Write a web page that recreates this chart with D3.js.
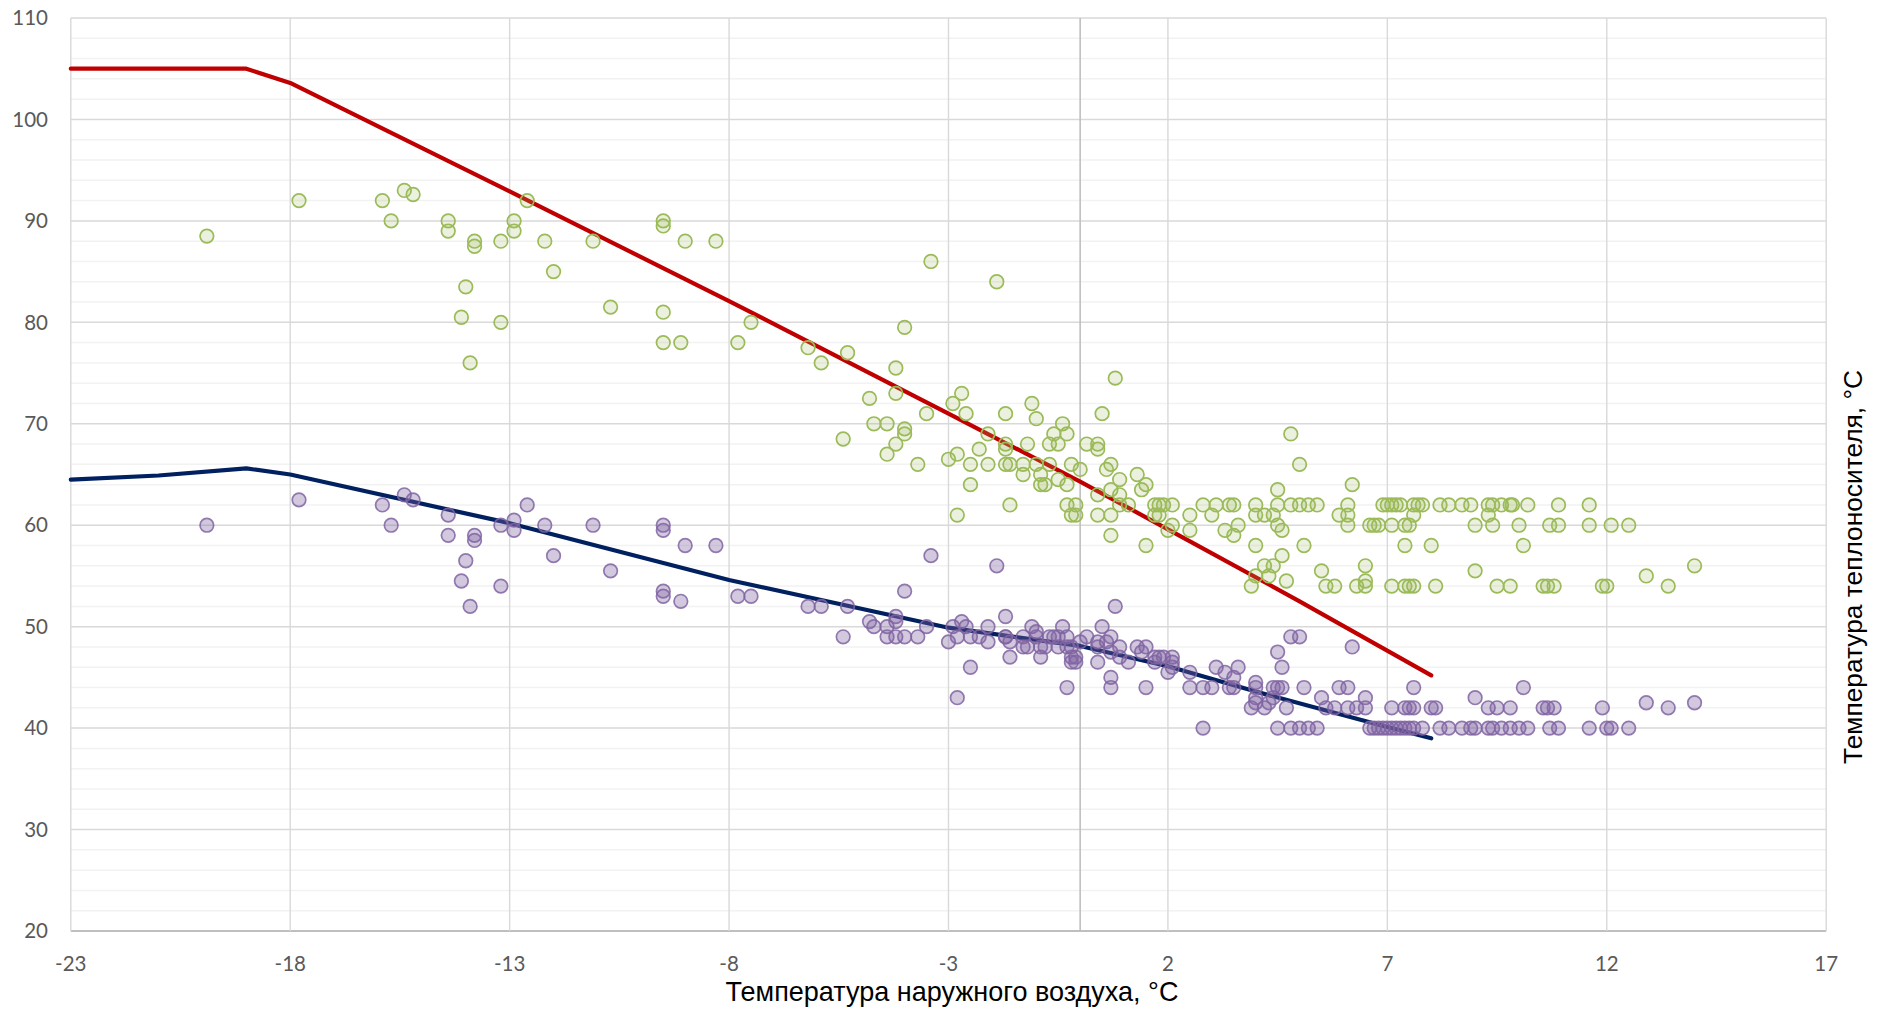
<!DOCTYPE html>
<html>
<head>
<meta charset="utf-8">
<script src="https://cdn.jsdelivr.net/npm/d3@7"></script>
<style>
  html, body { margin: 0; padding: 0; background: #fff; }
  svg { display: block; }
</style>
</head>
<body>
<svg id="chart" width="1881" height="1010"></svg>
<script>
// ---------------- DATA ----------------
const xTicks = [-23, -18, -13, -8, -3, 2, 7, 12, 17];
const yTicks = [20, 30, 40, 50, 60, 70, 80, 90, 100, 110];
const yMinorTicks = d3.range(20, 111, 2);

const xTitle = "Температура наружного воздуха, °С";
const yTitle = "Температура теплоносителя, °С";

// heating schedule (lines)
const scheduleX      = [-23, -19, -18, -13, -8, -3, 0, 2, 5, 8];
const scheduleSupply = [105, 105, 103.6, 92.9, 82.1, 71.0, 64.3, 59.6, 52.5, 45.2];
const scheduleReturnX = [-23, -21, -19, -18, -13, -8, -3, 0, 2, 4, 7, 8];
const scheduleReturn  = [64.5, 64.9, 65.6, 65.0, 60.2, 54.6, 49.9, 48.1, 46.1, 43.6, 40.1, 39.0];

// measured supply temperatures [outdoor, supply]
const supplyObs = [
  [-19.9,88.5],[-17.8,92],[-15.9,92],[-15.7,90],[-15.4,93],[-15.2,92.6],[-14.4,90],[-14.4,89],[-14.0,83.5],[-14.1,80.5],
  [-13.9,76],[-13.8,88],[-13.8,87.5],[-13.2,88],[-13.2,80],[-12.9,90],[-12.9,89],[-12.6,92],[-12.2,88],[-12.0,85],
  [-11.1,88],[-10.7,81.5],[-9.5,90],[-9.5,89.5],[-9.5,81],[-9.5,78],[-9.1,78],[-9.0,88],[-8.3,88],[-7.8,78],[-7.5,80],
  [-6.2,77.5],[-5.9,76],[-5.3,77],[-5.4,68.5],[-4.8,72.5],[-4.7,70],[-4.4,70],[-4.4,67],[-4.2,75.5],[-4.2,73],[-4.2,68],
  [-4.0,79.5],[-4.0,69.5],[-4.0,69],[-3.7,66],[-3.5,71],[-3.4,86],[-3.0,66.5],[-2.9,72],[-2.8,67],[-2.8,61],[-2.7,73],
  [-2.6,71],[-2.5,66],[-2.5,64],[-2.3,67.5],[-2.1,69],[-2.1,66],[-1.9,84],[-1.7,71],[-1.7,68],[-1.7,67.5],[-1.7,66],
  [-1.6,66],[-1.6,62],[-1.3,66],[-1.3,65],[-1.2,68],[-1.1,72],[-1.0,70.5],[-1.0,66],[-0.9,65],[-0.9,64],[-0.8,64],
  [-0.7,66],[-0.7,68],[-0.6,69],[-0.5,68],[-0.4,70],[-0.3,69],[-0.5,64.5],[-0.3,64],[-0.2,66],[0.0,65.5],[-0.3,62],
  [-0.1,62],[-0.2,61],[-0.1,61],[0.15,68],
  [0.8,74.5],[0.5,71],[0.4,68],[0.4,67.5],[0.6,65.5],[0.7,66],[0.9,64.5],[0.7,63.5],[0.4,63],[0.9,63],[1.3,65],[1.5,64],
  [1.4,63.5],[0.9,62],[1.1,62],[0.4,61],[0.7,61],[0.7,59],[1.5,58],[1.7,62],[1.8,62],[1.9,62],[2.1,62],[1.7,61],[1.8,61],
  [2.1,60],[2.0,59.5],[2.5,61],[2.5,59.5],[2.8,62],[3.1,62],[3.0,61],[3.4,62],[3.5,62],[3.3,59.5],[3.6,60],[3.5,59],
  [4.0,62],[4.0,61],[4.2,61],[4.4,61],[4.5,62],[4.5,63.5],[4.5,60],[4.6,59.5],[4.0,58],[4.6,57],[4.2,56],[4.4,56],
  [4.0,55],[4.3,55],[3.9,54],[4.7,54.5],[4.8,69],[5.0,66],[4.8,62],[5.0,62],[5.2,62],[5.4,62],[5.1,58],[5.5,55.5],
  [5.6,54],[5.8,54],[5.9,61],[6.1,62],[6.1,61],[6.1,60],[6.2,64],[6.5,56],[6.5,54.5],[6.3,54],[6.5,54],[6.6,60],
  [6.7,60],[6.8,60],[7.1,60],[6.9,62],[7.0,62],[7.1,62],[7.2,62],[7.3,62],[7.1,54],[7.4,60],[7.5,60],[7.4,58],
  [7.4,54],[7.5,54],[7.6,54],[7.6,62],[7.7,62],[7.6,61],
  [7.8,62],[8.2,62],[8.4,62],[8.7,62],[8.9,62],[9.3,62],[9.4,62],[9.6,62],[9.8,62],[9.85,62],[10.2,62],[10.9,62],
  [11.6,62],[9.3,61],[9.0,60],[9.4,60],[10.0,60],[10.7,60],[10.9,60],[11.6,60],[12.1,60],[12.5,60],[8.0,58],[10.1,58],
  [9.0,55.5],[12.9,55],[14.0,56],[13.4,54],[8.1,54],[9.5,54],[9.8,54],[10.55,54],[10.65,54],[10.8,54],[11.9,54],[12.0,54]
];

// measured return temperatures [outdoor, return]
const returnObs = [
  [-19.9,60],[-17.8,62.5],[-15.9,62],[-15.7,60],[-15.4,63],[-15.2,62.5],[-14.4,61],[-14.4,59],[-14.0,56.5],[-14.1,54.5],
  [-13.9,52],[-13.8,59],[-13.8,58.5],[-13.2,60],[-13.2,54],[-12.9,60.5],[-12.9,59.5],[-12.6,62],[-12.2,60],[-12.0,57],
  [-11.1,60],[-10.7,55.5],[-9.5,60],[-9.5,59.5],[-9.5,53.5],[-9.5,53],[-9.1,52.5],[-9.0,58],[-8.3,58],[-7.8,53],[-7.5,53],
  [-6.2,52],[-5.9,52],[-5.3,52],[-5.4,49],[-4.8,50.5],[-4.7,50],[-4.4,50],[-4.2,51],[-4.2,50.5],[-4.4,49],[-4.2,49],
  [-4.0,49],[-4.0,53.5],[-3.7,49],[-3.5,50],[-3.4,57],[-3.0,48.5],[-2.9,50],[-2.7,50.5],[-2.6,50],[-2.8,49],[-2.5,49],
  [-2.5,46],[-2.8,43],[-2.3,49],[-2.1,50],[-2.1,48.5],[-1.9,56],[-1.7,51],[-1.7,49],[-1.7,49],[-1.6,48.5],[-1.6,47],
  [-1.3,49],[-1.3,48],[-1.2,48],[-1.1,50],[-1.0,49.5],[-1.0,49],[-0.9,47],[-0.9,48],[-0.8,48],[-0.7,49],[-0.6,49],
  [-0.5,49],[-0.5,48],[-0.4,50],[-0.3,49],[-0.3,48],[-0.2,48],[-0.2,47],[-0.1,47],[-0.2,46.5],[-0.1,46.5],[-0.3,44],
  [0.0,48.5],[0.15,49],
  [0.4,48.5],[0.4,48],[0.4,46.5],[0.5,50],[0.6,48.5],[0.7,49],[0.7,47.5],[0.8,52],[0.7,45],[0.7,44],[0.9,48],[0.9,47],
  [1.1,46.5],[1.3,48],[1.4,47.5],[1.5,48],[1.5,44],[1.7,47],[1.7,46.5],[1.8,47],[1.9,47],[2.1,47],[2.1,46.5],[2.0,45.5],
  [2.1,46],[2.5,45.5],[2.5,44],[2.8,40],[2.8,44],[3.0,44],[3.1,46],[3.3,45.5],[3.5,45],[3.6,46],[3.4,44],[3.5,44],
  [4.0,44.5],[4.0,44],[4.0,43],[3.9,42],[4.0,42.5],[4.2,42],[4.3,42.5],[4.4,43],[4.4,44],[4.5,44],[4.6,44],[4.5,47.5],
  [4.6,46],[4.7,42],[4.5,40],[4.8,40],[5.0,40],[5.2,40],[5.4,40],[4.8,49],[5.0,49],[5.1,44],[5.5,43],[5.6,42],[5.8,42],
  [5.9,44],[6.1,44],[6.1,42],[6.2,48],[6.3,42],[6.5,43],[6.5,42],[6.6,40],[6.7,40],[6.8,40],[6.9,40],[7.0,40],[7.1,40],
  [7.2,40],[7.3,40],[7.4,40],[7.5,40],[7.6,40],[7.1,42],[7.4,42],[7.5,42],[7.6,42],[7.6,44],
  [7.8,40],[8.0,42],[8.1,42],[8.2,40],[8.4,40],[8.7,40],[8.9,40],[9.0,40],[9.0,43],[9.3,42],[9.5,42],[9.8,42],[10.1,44],
  [9.3,40],[9.4,40],[9.6,40],[9.8,40],[10.0,40],[10.2,40],[10.55,42],[10.65,42],[10.8,42],[10.7,40],[10.9,40],[11.6,40],
  [11.9,42],[12.0,40],[12.1,40],[12.5,40],[12.9,42.5],[13.4,42],[14.0,42.5]
];

// ---------------- CHART ----------------
const svg = d3.select("#chart");
const plot = { left: 70.8, right: 1826.2, top: 18, bottom: 931 };

const x = d3.scaleLinear().domain([-23, 17]).range([plot.left, plot.right]);
const y = d3.scaleLinear().domain([20, 110]).range([plot.bottom, plot.top]);

const grid = svg.append("g");
grid.selectAll("line.minor").data(yMinorTicks.filter(v => v % 10 !== 0)).join("line")
  .attr("x1", plot.left).attr("x2", plot.right)
  .attr("y1", d => y(d)).attr("y2", d => y(d))
  .attr("stroke", "#F2F2F2").attr("stroke-width", 1.5);
grid.selectAll("line.major").data(yTicks).join("line")
  .attr("x1", plot.left).attr("x2", plot.right)
  .attr("y1", d => y(d)).attr("y2", d => y(d))
  .attr("stroke", d => d === 20 ? "#BFBFBF" : "#D9D9D9")
  .attr("stroke-width", d => d === 20 ? 2.2 : 1.5);
grid.selectAll("line.vert").data(xTicks).join("line")
  .attr("x1", d => x(d)).attr("x2", d => x(d))
  .attr("y1", plot.top).attr("y2", plot.bottom)
  .attr("stroke", "#D9D9D9").attr("stroke-width", 1.4);
grid.append("line")
  .attr("x1", x(0)).attr("x2", x(0))
  .attr("y1", plot.top).attr("y2", plot.bottom)
  .attr("stroke", "#BFBFBF").attr("stroke-width", 1.6);

const tickFont = "Lato, 'Open Sans', sans-serif";
svg.append("g").selectAll("text").data(yTicks).join("text")
  .attr("x", 48).attr("y", d => y(d)).attr("dy", "0.35em")
  .attr("text-anchor", "end")
  .attr("font-family", tickFont).attr("font-size", 20.5).attr("fill", "#595959")
  .text(d => d);
svg.append("g").selectAll("text").data(xTicks).join("text")
  .attr("x", d => x(d)).attr("y", 971)
  .attr("text-anchor", "middle")
  .attr("font-family", tickFont).attr("font-size", 20.5).attr("fill", "#595959")
  .text(d => d);

const lineGen = d3.line().x(d => x(d[0])).y(d => y(d[1]));
svg.append("path")
  .datum(scheduleX.map((v, i) => [v, scheduleSupply[i]]))
  .attr("d", lineGen)
  .attr("fill", "none").attr("stroke", "#C00000").attr("stroke-width", 4.2)
  .attr("stroke-linejoin", "round").attr("stroke-linecap", "round");
svg.append("path")
  .datum(scheduleReturnX.map((v, i) => [v, scheduleReturn[i]]))
  .attr("d", lineGen)
  .attr("fill", "none").attr("stroke", "#002060").attr("stroke-width", 4.2)
  .attr("stroke-linejoin", "round").attr("stroke-linecap", "round");

svg.append("g").selectAll("circle").data(supplyObs).join("circle")
  .attr("cx", d => x(d[0])).attr("cy", d => y(d[1])).attr("r", 6.8)
  .attr("fill", "rgba(155,187,89,0.2)")
  .attr("stroke", "#9BBB59").attr("stroke-width", 1.7);
svg.append("g").selectAll("circle").data(returnObs).join("circle")
  .attr("cx", d => x(d[0])).attr("cy", d => y(d[1])).attr("r", 6.8)
  .attr("fill", "rgba(128,100,162,0.35)")
  .attr("stroke", "rgba(128,100,162,0.85)").attr("stroke-width", 1.7);

const titleFont = "'Liberation Sans', Arial, sans-serif";
const xt = svg.append("text")
  .attr("x", 952).attr("y", 1001)
  .attr("text-anchor", "middle")
  .attr("font-family", titleFont).attr("font-size", 24).attr("fill", "#000")
  .text(xTitle);
const xtw = xt.node().getComputedTextLength();
xt.attr("font-size", 24 * 453 / xtw);

const yt = svg.append("text")
  .attr("transform", "translate(1862,567) rotate(-90)")
  .attr("text-anchor", "middle")
  .attr("font-family", titleFont).attr("font-size", 22).attr("fill", "#000")
  .text(yTitle);
const ytw = yt.node().getComputedTextLength();
yt.attr("font-size", 22 * 394 / ytw);
</script>
</body>
</html>
